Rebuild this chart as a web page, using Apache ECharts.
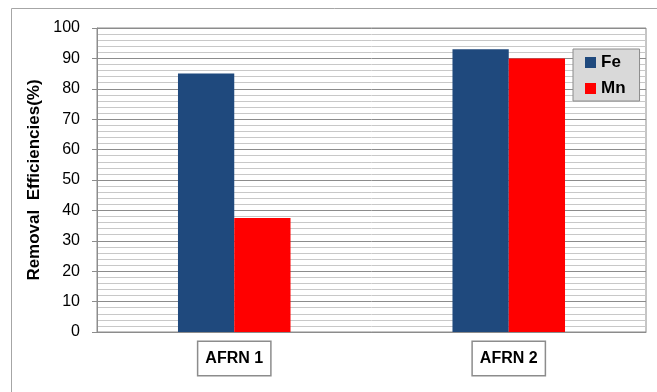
<!DOCTYPE html>
<html><head><meta charset="utf-8">
<script src="https://cdn.jsdelivr.net/npm/echarts@6/dist/echarts.min.js"></script>
<style>html,body{margin:0;padding:0;background:#fff}#c{width:657px;height:392px}</style>
</head><body><div id="c"></div>
<script>
const categories = ['AFRN 1', 'AFRN 2'];
const feValues = [85, 93];
const mnValues = [37.5, 90];
const yTicks = [0, 10, 20, 30, 40, 50, 60, 70, 80, 90, 100];

const chart = echarts.init(document.getElementById('c'));
chart.setOption({
  animation: false,
  graphic: [{
    type: 'rect', shape: {x: 11.5, y: 8.5, width: 700, height: 500},
    style: {fill: 'none', stroke: '#a6a6a6', lineWidth: 1}, z: -10
  }],
  grid: {left: 97, right: 11, top: 28, bottom: 60, show: true, borderColor: '#8c8c8c', borderWidth: 1},
  legend: {
    orient: 'vertical', left: 573, top: 49,
    backgroundColor: '#d9d9d9', borderColor: '#8c8c8c', borderWidth: 1,
    padding: [5, 14, 4, 12], itemGap: 9, itemWidth: 11, itemHeight: 11,
    icon: 'rect',
    textStyle: {fontFamily: 'Liberation Sans', fontWeight: 'bold', fontSize: 17, color: '#000'},
    data: ['Fe', 'Mn']
  },
  xAxis: {
    type: 'category', data: categories,
    axisLine: {lineStyle: {color: '#8c8c8c'}},
    axisTick: {show: false},
    axisLabel: {
      margin: 10, fontFamily: 'Liberation Sans', fontWeight: 'bold', fontSize: 16, color: '#000',
      lineHeight: 17, borderColor: '#8c8c8c', borderWidth: 1.5, padding: [8, 7, 8, 7], backgroundColor: '#fff'
    }
  },
  yAxis: {
    type: 'value', min: 0, max: 100, interval: 10,
    name: 'Removal  Efficiencies(%)', nameLocation: 'middle', nameGap: 44,
    nameTextStyle: {fontFamily: 'Liberation Sans', fontWeight: 'bold', fontSize: 17, color: '#000'},
    axisLine: {show: true, lineStyle: {color: '#8c8c8c'}},
    axisTick: {show: true, length: 5, lineStyle: {color: '#8c8c8c'}},
    axisLabel: {fontFamily: 'Liberation Sans', fontSize: 16, color: '#000', margin: 17,
      formatter: v => yTicks.includes(v) ? String(v) : ''},
    splitLine: {show: true, lineStyle: {color: '#8c8c8c', width: 1}},
    minorTick: {show: false, splitNumber: 5},
    minorSplitLine: {show: true, lineStyle: {color: '#c8c8c8', width: 1}}
  },
  series: [
    {name: 'Fe', type: 'bar', data: feValues, barGap: '0%', barCategoryGap: '59%',
      itemStyle: {color: '#1f497d'}},
    {name: 'Mn', type: 'bar', data: mnValues, itemStyle: {color: '#ff0000'}}
  ]
});
</script></body></html>
